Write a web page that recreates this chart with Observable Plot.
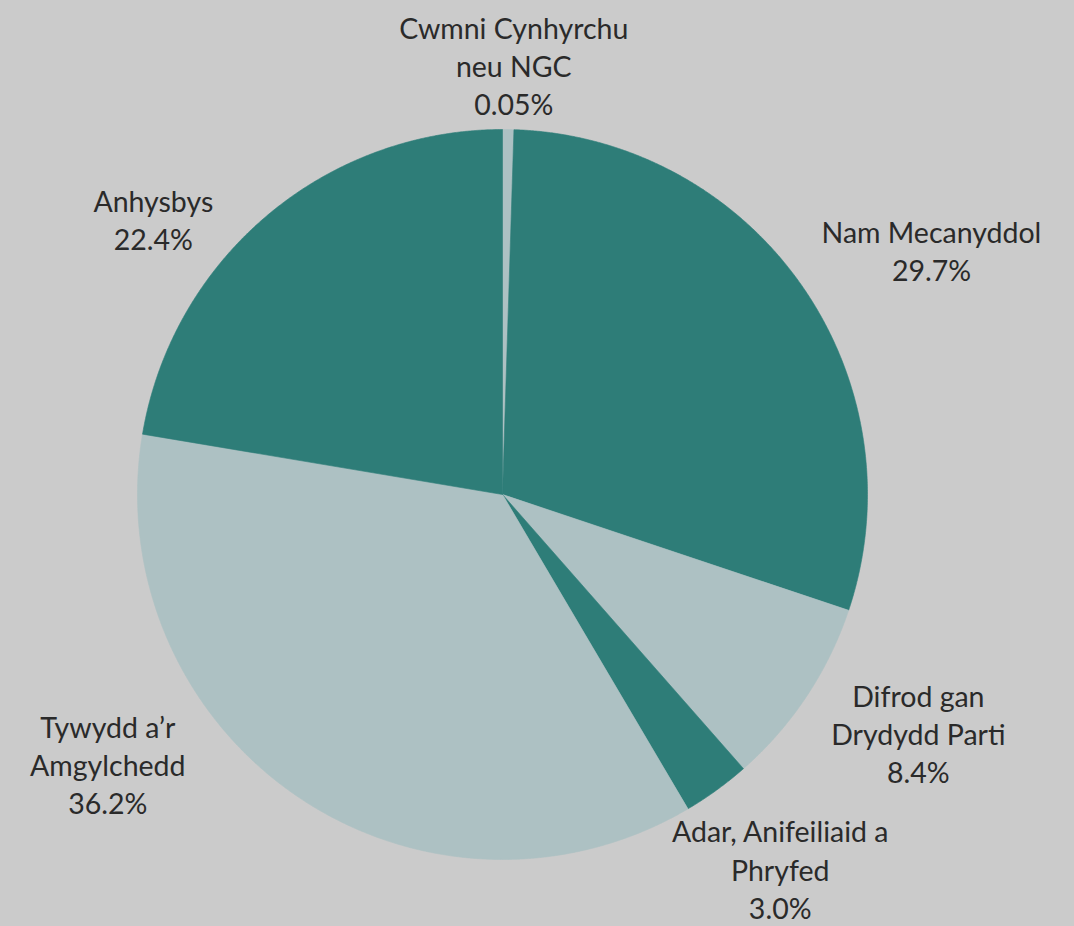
<!DOCTYPE html>
<html>
<head>
<meta charset="utf-8">
<script src="https://cdn.jsdelivr.net/npm/d3@7"></script>
<script src="https://cdn.jsdelivr.net/npm/@observablehq/plot@0.6"></script>
<style>
  html, body { margin: 0; padding: 0; background: #cbcbcb; }
  #chart svg { display: block; }
</style>
</head>
<body>
<div id="chart"></div>
<script>
// ---- data ----
const categories = [
  "Cwmni Cynhyrchu\nneu NGC",
  "Nam Mecanyddol",
  "Difrod gan\nDrydydd Parti",
  "Adar, Anifeiliaid a\nPhryfed",
  "Tywydd a’r\nAmgylchedd",
  "Anhysbys"
];
// slice sizes as drawn in the picture (percent)
const shares = [0.5, 29.7, 8.4, 3.0, 36.2, 22.4];
// percentages printed on the labels
const pctLabels = ["0.05%", "29.7%", "8.4%", "3.0%", "36.2%", "22.4%"];
const tones = ["light", "dark", "light", "dark", "light", "dark"];

// ---- layout / style ----
const W = 1074, H = 926;
const CX = 502, CY = 494, R = 365;
const palette = {dark: "#2e7d78", light: "#adc1c3"};
// label placement: polar angle (deg, clockwise from north) and radius (× R)
const labelPlacement = [
  [1.5, 1.178], [60.3, 1.353], [119.8, 1.313],
  [143.4, 1.276], [235.7, 1.309], [308.3, 1.219]
];

const arcs = d3.pie().sort(null).startAngle(0).endAngle(2 * Math.PI)(shares);

// polygon vertices for each slice (in units of radius)
const slicePts = [];
arcs.forEach((a, i) => {
  const n = Math.max(4, Math.ceil((a.endAngle - a.startAngle) / (Math.PI / 720)));
  slicePts.push({k: i, x: 0, y: 0, c: palette[tones[i]]});
  for (let j = 0; j <= n; j++) {
    const t = a.startAngle + (a.endAngle - a.startAngle) * j / n;
    slicePts.push({k: i, x: Math.sin(t), y: Math.cos(t), c: palette[tones[i]]});
  }
  slicePts.push({k: i, x: 0, y: 0, c: palette[tones[i]]});
});

const labels = categories.map((c, i) => {
  const [deg, r] = labelPlacement[i];
  const t = deg * Math.PI / 180;
  return {text: c + "\n" + pctLabels[i], x: r * Math.sin(t), y: r * Math.cos(t)};
});

const chart = Plot.plot({
  width: W,
  height: H,
  margin: 0,
  style: {background: "#cbcbcb", fontFamily: "Lato, 'Open Sans', sans-serif"},
  x: {domain: [-CX / R, (W - CX) / R], axis: null},
  y: {domain: [-(H - CY) / R, CY / R], axis: null},
  color: {type: "identity"},
  marks: [
    Plot.line(slicePts, {x: "x", y: "y", z: "k", fill: "c", stroke: "c", strokeWidth: 0.6, curve: "linear"}),
    Plot.text(labels, {
      x: "x", y: "y", text: "text",
      fontSize: 28.5, lineHeight: 1.34, fill: "#2a2a2a",
      textAnchor: "middle", lineAnchor: "middle"
    })
  ]
});
document.getElementById("chart").appendChild(chart);
</script>
</body>
</html>
